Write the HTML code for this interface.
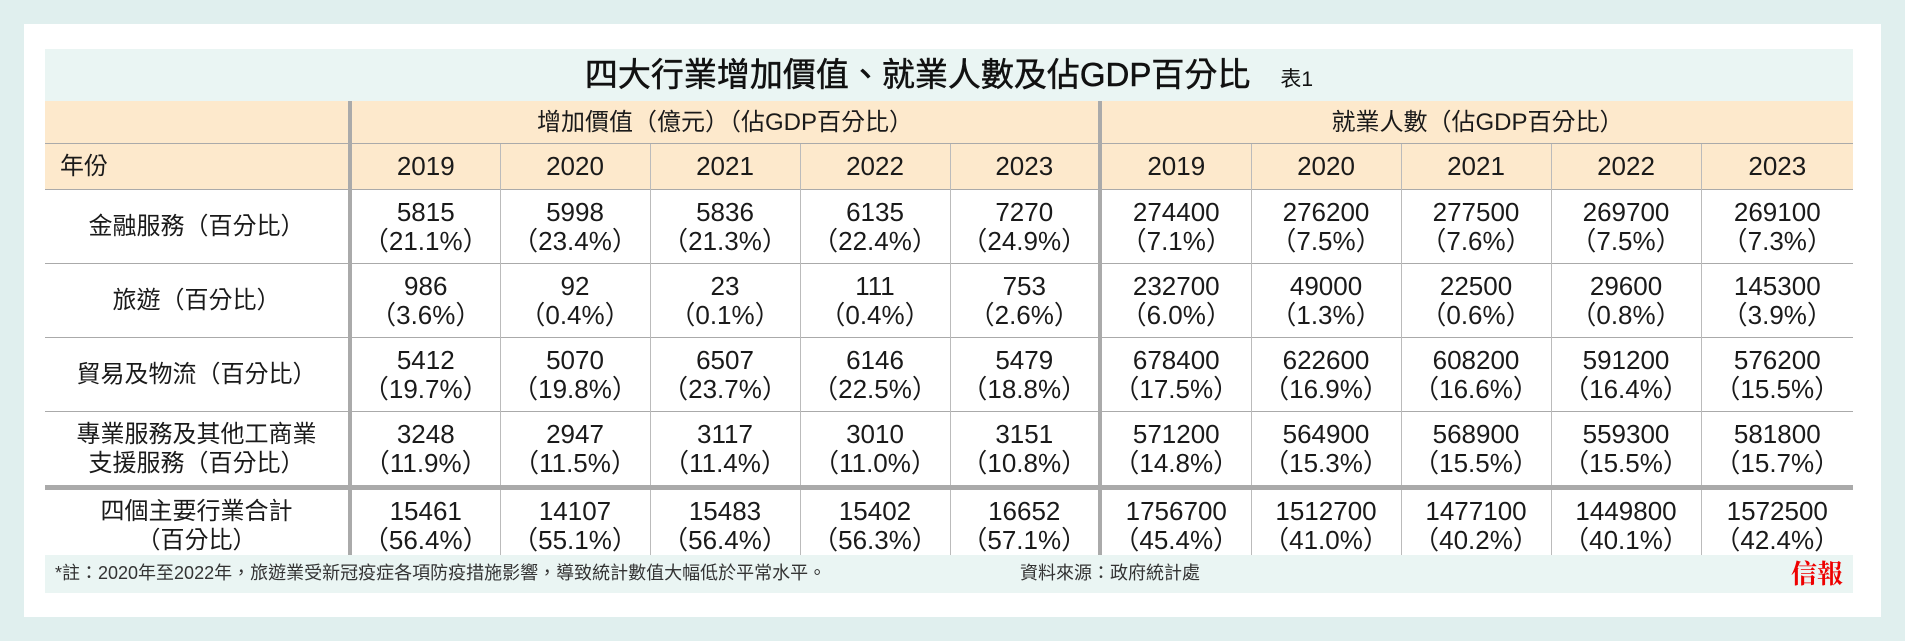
<!DOCTYPE html>
<html><head><meta charset="utf-8"><style>
html,body{margin:0;padding:0}
body{width:1905px;height:641px;background:#e0efee;position:relative;overflow:hidden;font-family:"Liberation Sans","Noto Sans CJK TC",sans-serif;color:#222}
#panel{position:absolute;left:24px;top:24px;width:1857px;height:593px;background:#fff}
#title{position:absolute;left:45px;top:49px;width:1808px;height:52px;background:#eaf5f3;text-align:center;line-height:52px;font-size:33px;color:#111;-webkit-text-stroke:0.5px #111}
#title small{font-size:21px;margin-left:30px;-webkit-text-stroke:0}
table{position:absolute;left:45px;top:101px;border-collapse:collapse;table-layout:fixed;width:1808px}
td{padding:0;text-align:center;font-size:26px;line-height:29px;border-left:1px solid #bbb;color:#1a1a1a}
tr.h1 td{background:#fde9cc;height:42px;font-size:24px;border-left:none}
tr.h2 td{background:#fde9cc;height:45px;border-top:1px solid #aaa}
tr.b td{height:73px;border-top:1px solid #aaa}
tr.t td{height:72px;border-top:5px solid #aaa}
td.lab{border-left:none;font-size:24px}
td.thick{border-left:4px solid #aaa}
#foot{position:absolute;left:45px;top:555px;width:1808px;height:38px;background:#eaf5f3;font-size:18px;line-height:36px;color:#333}
#foot .s{position:absolute;left:975px;top:0}
#foot .l{position:absolute;left:10px;top:0}
#foot .r{position:absolute;right:10px;top:0;color:#e00;font-weight:bold;font-size:26px;font-family:"Noto Serif CJK SC",serif}
</style></head><body>
<div id="panel"></div>
<div id="title">四大行業增加價值、就業人數及佔GDP百分比<small>表1</small></div>
<table>
<colgroup><col style="width:305px"><col style="width:150px"><col style="width:150px"><col style="width:150px"><col style="width:150px"><col style="width:150px"><col style="width:151px"><col style="width:150px"><col style="width:150px"><col style="width:150px"><col style="width:152px"></colgroup>
<tr class="h1"><td></td><td colspan="5" style="border-left:4px solid #aaa">增加價值（億元）（佔GDP百分比）</td><td colspan="5" style="border-left:4px solid #aaa">就業人數（佔GDP百分比）</td></tr>
<tr class="h2"><td class="lab" style="text-align:left;padding-left:15px">年份</td><td class="thick">2019</td><td>2020</td><td>2021</td><td>2022</td><td>2023</td><td class="thick">2019</td><td>2020</td><td>2021</td><td>2022</td><td>2023</td></tr>
<tr class="b"><td class="lab">金融服務（百分比）</td><td class="thick">5815<br>（21.1%）</td><td>5998<br>（23.4%）</td><td>5836<br>（21.3%）</td><td>6135<br>（22.4%）</td><td>7270<br>（24.9%）</td><td class="thick">274400<br>（7.1%）</td><td>276200<br>（7.5%）</td><td>277500<br>（7.6%）</td><td>269700<br>（7.5%）</td><td>269100<br>（7.3%）</td></tr>
<tr class="b"><td class="lab">旅遊（百分比）</td><td class="thick">986<br>（3.6%）</td><td>92<br>（0.4%）</td><td>23<br>（0.1%）</td><td>111<br>（0.4%）</td><td>753<br>（2.6%）</td><td class="thick">232700<br>（6.0%）</td><td>49000<br>（1.3%）</td><td>22500<br>（0.6%）</td><td>29600<br>（0.8%）</td><td>145300<br>（3.9%）</td></tr>
<tr class="b"><td class="lab">貿易及物流（百分比）</td><td class="thick">5412<br>（19.7%）</td><td>5070<br>（19.8%）</td><td>6507<br>（23.7%）</td><td>6146<br>（22.5%）</td><td>5479<br>（18.8%）</td><td class="thick">678400<br>（17.5%）</td><td>622600<br>（16.9%）</td><td>608200<br>（16.6%）</td><td>591200<br>（16.4%）</td><td>576200<br>（15.5%）</td></tr>
<tr class="b"><td class="lab">專業服務及其他工商業<br>支援服務（百分比）</td><td class="thick">3248<br>（11.9%）</td><td>2947<br>（11.5%）</td><td>3117<br>（11.4%）</td><td>3010<br>（11.0%）</td><td>3151<br>（10.8%）</td><td class="thick">571200<br>（14.8%）</td><td>564900<br>（15.3%）</td><td>568900<br>（15.5%）</td><td>559300<br>（15.5%）</td><td>581800<br>（15.7%）</td></tr>
<tr class="t"><td class="lab">四個主要行業合計<br>（百分比）</td><td class="thick">15461<br>（56.4%）</td><td>14107<br>（55.1%）</td><td>15483<br>（56.4%）</td><td>15402<br>（56.3%）</td><td>16652<br>（57.1%）</td><td class="thick">1756700<br>（45.4%）</td><td>1512700<br>（41.0%）</td><td>1477100<br>（40.2%）</td><td>1449800<br>（40.1%）</td><td>1572500<br>（42.4%）</td></tr>
</table>
<div id="foot"><span class="l">*註：2020年至2022年，旅遊業受新冠疫症各項防疫措施影響，導致統計數值大幅低於平常水平。</span><span class="s">資料來源：政府統計處</span><span class="r">信報</span></div>
</body></html>
